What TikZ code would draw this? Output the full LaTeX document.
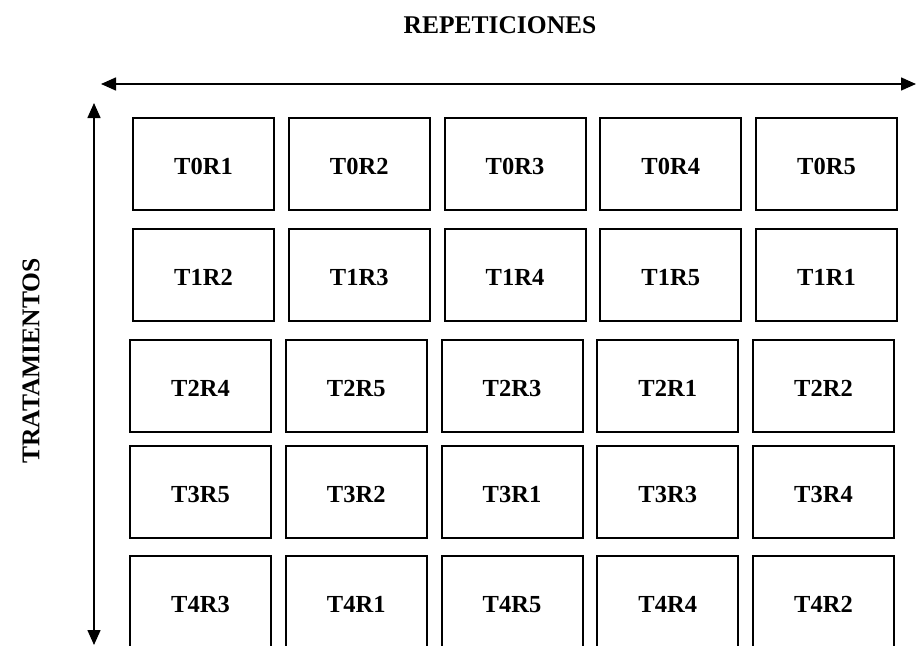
\documentclass[tikz,border=0pt]{standalone}
\usepackage{fontspec}
\setmainfont{Liberation Serif}
\usepackage{tikz}
\usetikzlibrary{arrows.meta,positioning}

\begin{document}
\begin{tikzpicture}[x=1pt, y=-1pt, node distance=12.75pt,
    cell/.style={draw, rectangle, line width=2pt, minimum width=141pt, minimum height=92pt,
        inner sep=0pt, text height=20pt, text depth=0pt,
        font=\bfseries\fontsize{24.5}{29}\selectfont},
    axis/.style={line width=1.5pt, {Triangle[length=15pt,width=13pt]}-{Triangle[length=15pt,width=13pt]}},
    title/.style={font=\bfseries\fontsize{25.5}{30}\selectfont}]
    \useasboundingbox (0,0) rectangle (917,645);

    % row T0
    \node[cell, anchor=north west] (t0r1) at (132,117) {T0R1};
    \node[cell, right=of t0r1] (t0r2) {T0R2};
    \node[cell, right=of t0r2] (t0r3) {T0R3};
    \node[cell, right=of t0r3] (t0r4) {T0R4};
    \node[cell, right=of t0r4] (t0r5) {T0R5};
    % row T1
    \node[cell, below=17pt of t0r1] (t1r2) {T1R2};
    \node[cell, right=of t1r2] (t1r3) {T1R3};
    \node[cell, right=of t1r3] (t1r4) {T1R4};
    \node[cell, right=of t1r4] (t1r5) {T1R5};
    \node[cell, right=of t1r5] (t1r1) {T1R1};
    % row T2
    \node[cell, anchor=north west] (t2r4) at (129,339) {T2R4};
    \node[cell, right=of t2r4] (t2r5) {T2R5};
    \node[cell, right=of t2r5] (t2r3) {T2R3};
    \node[cell, right=of t2r3] (t2r1) {T2R1};
    \node[cell, right=of t2r1] (t2r2) {T2R2};
    % row T3
    \node[cell, below=12pt of t2r4] (t3r5) {T3R5};
    \node[cell, right=of t3r5] (t3r2) {T3R2};
    \node[cell, right=of t3r2] (t3r1) {T3R1};
    \node[cell, right=of t3r1] (t3r3) {T3R3};
    \node[cell, right=of t3r3] (t3r4) {T3R4};
    % row T4
    \node[cell, below=16pt of t3r5] (t4r3) {T4R3};
    \node[cell, right=of t4r3] (t4r1) {T4R1};
    \node[cell, right=of t4r1] (t4r5) {T4R5};
    \node[cell, right=of t4r5] (t4r4) {T4R4};
    \node[cell, right=of t4r4] (t4r2) {T4R2};

    % axes
    \node[title] (rep) at (500,25) {REPETICIONES};
    \node[title, rotate=90] (trat) at (31,361) {TRATAMIENTOS};
    \coordinate (repw) at (101,84);
    \coordinate (repe) at (916,84);
    \coordinate (tratn) at (94,103);
    \coordinate (trats) at (94,645);
    \draw[axis] (repw) -- (repe);
    \draw[axis] (tratn) -- (trats);
\end{tikzpicture}
\end{document}
